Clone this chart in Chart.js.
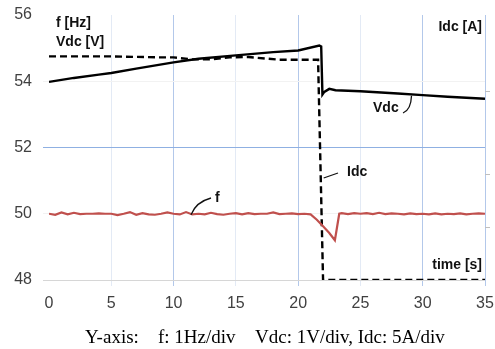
<!DOCTYPE html>
<html>
<head>
<meta charset="utf-8">
<script src="https://cdn.jsdelivr.net/npm/chart.js@4/dist/chart.umd.min.js"></script>
<style>
  body { margin: 0; background: #fff; }
  canvas { display: block; }
</style>
</head>
<body>
<canvas id="chart" width="495" height="349"></canvas>
<script>
// axis ticks
const xTicks = [0, 5, 10, 15, 20, 25, 30, 35];
const yTicks = [48, 50, 52, 54, 56];
// small tick marks on the right (Idc) axis, in left-axis units
const idcTickMarks = [49.57, 51.17, 53.68];

// Vdc [V]
const tVdc = [0, 2, 4, 5, 7, 10, 12, 15, 18, 20, 21.7, 21.85, 21.95, 22.1, 22.5, 23, 25, 28, 30, 32, 35];
const vdc = [53.98, 54.1, 54.2, 54.25, 54.38, 54.57, 54.68, 54.78, 54.88, 54.93, 55.08, 55.05, 53.6, 53.68, 53.77, 53.73, 53.7, 53.63, 53.58, 53.53, 53.47];

// Idc (plotted on the left scale)
const tIdc = [0, 5, 9, 10, 11.5, 13, 14.5, 16, 18.5, 21.6, 22.0, 35];
const idc = [54.75, 54.75, 54.72, 54.72, 54.66, 54.66, 54.72, 54.73, 54.65, 54.65, 48.0, 48.0];

// f [Hz]
const tF = [0, 0.5, 1, 1.5, 2, 2.5, 3, 3.5, 4, 4.5, 5, 5.5, 6, 6.5, 7, 7.5, 8, 8.5, 9, 9.5,
  10, 10.5, 11, 11.5, 12, 12.5, 13, 13.5, 14, 14.5, 15, 15.5, 16, 16.5, 17, 17.5, 18, 18.5, 19, 19.5,
  20, 20.5, 21, 21.5, 22, 22.5, 22.95, 23.3, 23.5, 24, 24.5, 25, 25.5, 26, 26.5, 27, 27.5, 28,
  28.5, 29, 29.5, 30, 30.5, 31, 31.5, 32, 32.5, 33, 33.5, 34, 34.5, 35];
const f = [50.0, 49.97, 50.04, 49.98, 50.03, 49.99, 50.0, 50.0, 50.01, 50.0, 50.0, 49.96, 50.0, 50.05, 49.97, 50.02, 49.98, 49.97, 50.0, 50.04,
  50.0, 49.98, 50.05, 49.98, 50.0, 49.98, 50.03, 49.99, 49.97, 50.0, 50.02, 49.98, 50.02, 49.99, 50.0, 50.0, 50.04, 49.99, 50.0, 50.01,
  49.99, 50.0, 49.98, 49.82, 49.62, 49.42, 49.2, 50.0, 50.02, 49.99, 50.02, 50.0, 50.02, 49.99, 50.03, 49.99, 50.01, 50.0,
  49.98, 50.01, 49.99, 50.0, 49.98, 50.01, 49.98, 50.0, 49.99, 50.01, 49.98, 50.0, 50.01, 50.0];

const pts = (xs, ys) => xs.map((x, i) => ({ x: x, y: ys[i] }));

const labelFont = 'bold 14px "Liberation Sans", Arial, sans-serif';

// text labels, leader lines and caption
const notes = {
  id: 'notes',
  afterDraw(chart) {
    const ctx = chart.ctx;
    const xs = chart.scales.x, ys = chart.scales.y;
    ctx.save();
    ctx.fillStyle = '#111';
    ctx.font = labelFont;
    ctx.textBaseline = 'middle';
    ctx.textAlign = 'left';
    ctx.fillText('f [Hz]', 56, 23);
    ctx.fillText('Vdc [V]', 56, 42);
    ctx.fillText('Vdc', 373, 108);
    ctx.fillText('Idc', 347, 172);
    ctx.fillText('f', 215, 198);
    ctx.textAlign = 'right';
    ctx.fillText('Idc [A]', 482, 27);
    ctx.fillText('time [s]', 482, 265);

    // leaders
    ctx.strokeStyle = '#111';
    ctx.lineWidth = 1.3;
    ctx.beginPath();
    ctx.moveTo(403, 113);
    ctx.quadraticCurveTo(411, 110, xs.getPixelForValue(29.1), ys.getPixelForValue(53.56));
    ctx.stroke();
    ctx.beginPath();
    ctx.moveTo(xs.getPixelForValue(22.05), 178);
    ctx.lineTo(338, 173);
    ctx.stroke();
    ctx.beginPath();
    ctx.moveTo(xs.getPixelForValue(11.4), ys.getPixelForValue(49.97));
    ctx.quadraticCurveTo(196, 202, 211, 198);
    ctx.stroke();

    // caption
    ctx.fillStyle = '#000';
    ctx.font = '19px "Liberation Serif", "Times New Roman", serif';
    ctx.textAlign = 'left';
    ctx.textBaseline = 'alphabetic';
    ctx.fillText('Y-axis:', 85, 343);
    ctx.fillText('f: 1Hz/div', 158, 343);
    ctx.fillText('Vdc: 1V/div, Idc: 5A/div', 255, 343);
    ctx.restore();
  }
};

new Chart(document.getElementById('chart'), {
  type: 'line',
  data: {
    datasets: [
      { label: 'f', data: pts(tF, f), borderColor: '#c0504d', borderWidth: 2.2 },
      { label: 'Vdc', data: pts(tVdc, vdc), borderColor: '#000', borderWidth: 2.4 },
      { label: 'Idc', data: pts(tIdc, idc), borderColor: '#000', borderWidth: 2.4, borderDash: [7, 4] }
    ]
  },
  options: {
    responsive: false,
    animation: false,
    layout: { padding: { top: 15, left: 0, right: 0, bottom: 0 } },
    elements: { point: { radius: 0 }, line: { tension: 0 } },
    plugins: { legend: { display: false }, tooltip: { enabled: false } },
    scales: {
      x: {
        type: 'linear', min: 0, max: 35,
        afterBuildTicks: s => { s.ticks = xTicks.map(v => ({ value: v })); },
        afterFit: s => { s.height = 69; s.paddingLeft = 0; s.paddingRight = 0; },
        border: { display: false },
        grid: {
          tickLength: 6,
          color: c => {
            const v = c.tick ? c.tick.value : 0;
            if (v === 0) return 'rgba(0,0,0,0)';
            if (v % 10 === 0 || v === 35) return '#b3c8ea';
            return '#e3eaf5';
          }
        },
        ticks: { padding: 8, color: '#404040', font: { family: '"Liberation Sans", Arial, sans-serif', size: 16 } }
      },
      y: {
        min: 48, max: 56,
        afterBuildTicks: s => { s.ticks = yTicks.map(v => ({ value: v })); },
        afterFit: s => { s.width = 49; s.paddingTop = 0; s.paddingBottom = 0; },
        border: { display: false },
        grid: {
          tickLength: 6,
          color: c => {
            const v = c.tick ? c.tick.value : 0;
            if (v === 52) return '#8fb0e2';
            if (v === 48) return '#d6d6d6';
            if (v === 56) return 'rgba(0,0,0,0)';
            return '#f2f2f2';
          }
        },
        ticks: { padding: 11, color: '#404040', font: { family: '"Liberation Sans", Arial, sans-serif', size: 16 } }
      },
      y2: {
        position: 'right', min: 48, max: 56,
        afterBuildTicks: s => { s.ticks = idcTickMarks.map(v => ({ value: v })); },
        afterFit: s => { s.width = 10; s.paddingTop = 0; s.paddingBottom = 0; },
        border: { display: false },
        grid: { drawOnChartArea: false, tickLength: 5, color: '#bfbfbf' },
        ticks: { display: false }
      }
    }
  },
  plugins: [notes]
});
</script>
</body>
</html>
